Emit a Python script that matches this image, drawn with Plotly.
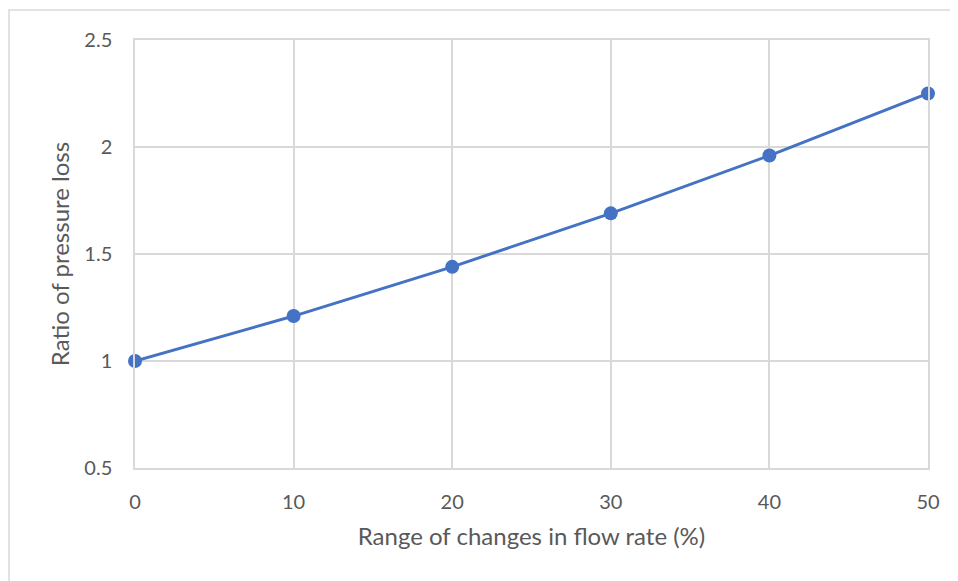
import plotly.graph_objects as go

flow_change = [0, 10, 20, 30, 40, 50]
pressure_ratio = [1.0, 1.21, 1.44, 1.69, 1.96, 2.25]
y_ticks = [0.5, 1, 1.5, 2, 2.5]
y_tick_labels = ["0.5", "1", "1.5", "2", "2.5"]

font_family = "Lato, 'Open Sans', sans-serif"
txt = "#595959"
grid = "#D9D9D9"

fig = go.Figure()
fig.add_trace(go.Scatter(
    x=flow_change, y=pressure_ratio, mode="lines+markers",
    line=dict(color="#4472C4", width=3),
    marker=dict(color="#4472C4", size=14),
    cliponaxis=False, showlegend=False,
))

# page body has an 8px margin; compensate
OFF = 8
W, H = 958 - OFF, 581 - OFF
PL, PR, PT, PB = 135, 928, 40, 468  # plot area in screen px
L, R, T, B = PL - OFF, 958 - PR, PT - OFF, 581 - PB
pw = PR - PL
ph = PB - PT

fig.update_layout(
    width=W, height=H,
    margin=dict(l=L, r=R, t=T, b=B),
    paper_bgcolor="white", plot_bgcolor="white",
    font=dict(family=font_family, color=txt, size=20),
    xaxis=dict(
        range=[0, 50], tickvals=flow_change, ticks="", showgrid=True,
        gridcolor=grid, gridwidth=1.5, zeroline=False,
        showline=True, linecolor=grid, linewidth=1.5, mirror=True,
        ticklabelstandoff=15,
        title=dict(text="Range of changes in flow rate (%)", standoff=16,
                   font=dict(size=24, color=txt)),
        tickfont=dict(size=20, color=txt),
    ),
    yaxis=dict(
        range=[0.5, 2.5], tickvals=y_ticks, ticktext=y_tick_labels, ticks="",
        showgrid=True, gridcolor=grid, gridwidth=1.5, zeroline=False,
        showline=True, linecolor=grid, linewidth=1.5, mirror=True,
        ticklabelstandoff=17,
        title=dict(text="Ratio of pressure loss", standoff=8,
                   font=dict(size=24, color=txt)),
        tickfont=dict(size=20, color=txt),
    ),
    shapes=[dict(
        type="rect", xref="paper", yref="paper",
        x0=(9 - PL) / pw, x1=(958 + 20 - PL) / pw,
        y0=-(600 - PB) / ph, y1=(PB - 10) / ph,
        line=dict(color=grid, width=1.5), fillcolor="rgba(0,0,0,0)",
        layer="below",
    )],
)

fig.write_html("out.html")
